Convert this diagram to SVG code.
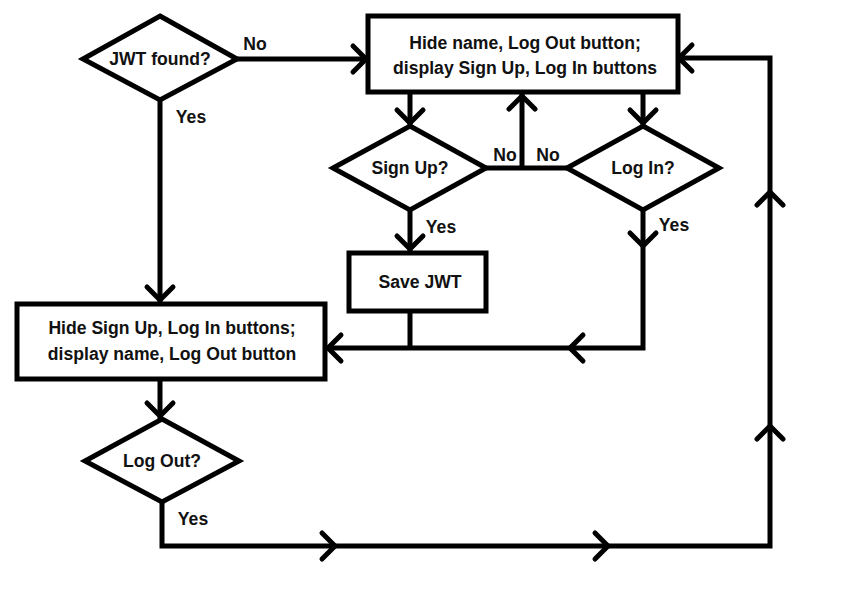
<svg xmlns="http://www.w3.org/2000/svg" xmlns:xlink="http://www.w3.org/1999/xlink" width="843" height="595" viewBox="0 0 843 595">
<style>
.s{fill:none;stroke:#000;stroke-width:5;stroke-linejoin:miter;stroke-linecap:square}
.n{fill:#fff;stroke:#000;stroke-width:5}
.t{font-family:"Liberation Sans",Arial,sans-serif;font-weight:bold;font-size:17.6px;fill:#111;text-anchor:middle}
</style>
<defs>
<path id="chev" d="M-13,-13 L0,0 L-13,13" fill="none" stroke="#000" stroke-width="5" stroke-linecap="round"/>
</defs>
<rect width="843" height="595" fill="#fff"/>
<g id="connectors">
<path class="s" d="M237,59 H366"/>
<use xlink:href="#chev" transform="translate(366,59)"/>
<text class="t" x="255" y="50">No</text>
<path class="s" d="M160,100 V302"/>
<use xlink:href="#chev" transform="translate(160,300) rotate(90)"/>
<text class="t" x="191" y="123">Yes</text>
<path class="s" d="M410,93 V124"/>
<use xlink:href="#chev" transform="translate(410,123) rotate(90)"/>
<path class="s" d="M643,93 V124"/>
<use xlink:href="#chev" transform="translate(643,123) rotate(90)"/>
<path class="s" d="M486,168 H567 M522,168 V95"/>
<use xlink:href="#chev" transform="translate(522,96) rotate(-90)"/>
<text class="t" x="505" y="161">No</text>
<text class="t" x="548" y="161">No</text>
<path class="s" d="M410,210 V251"/>
<use xlink:href="#chev" transform="translate(410,249) rotate(90)"/>
<text class="t" x="441" y="233">Yes</text>
<path class="s" d="M643,210 V348 H327 M410,311 V348"/>
<use xlink:href="#chev" transform="translate(643,246) rotate(90)"/>
<use xlink:href="#chev" transform="translate(570,348) rotate(180)"/>
<use xlink:href="#chev" transform="translate(328,348) rotate(180)"/>
<text class="t" x="674" y="231">Yes</text>
<path class="s" d="M160,379 V417"/>
<use xlink:href="#chev" transform="translate(160,416) rotate(90)"/>
<path class="s" d="M162,502 V546 H770 V58 H680"/>
<use xlink:href="#chev" transform="translate(335,546)"/>
<use xlink:href="#chev" transform="translate(608,546)"/>
<use xlink:href="#chev" transform="translate(770,426) rotate(-90)"/>
<use xlink:href="#chev" transform="translate(770,192) rotate(-90)"/>
<use xlink:href="#chev" transform="translate(679,58) rotate(180)"/>
<text class="t" x="193" y="525">Yes</text>
</g>
<g id="jwt-found">
<polygon class="n" points="160,16 237,59 160,100 83,59"/>
<text class="t" x="160" y="65">JWT found?</text>
</g>
<g id="logged-out-view">
<rect class="n" x="368" y="16" width="310" height="76"/>
<text class="t" x="525" y="49">Hide name, Log Out button;</text>
<text class="t" x="525" y="74">display Sign Up, Log In buttons</text>
</g>
<g id="sign-up">
<polygon class="n" points="410,126 486,168 410,210 333,168"/>
<text class="t" x="410" y="174">Sign Up?</text>
</g>
<g id="log-in">
<polygon class="n" points="643,126 719,168 643,210 567,168"/>
<text class="t" x="643" y="174">Log In?</text>
</g>
<g id="save-jwt">
<rect class="n" x="349" y="253" width="137" height="58"/>
<text class="t" x="420" y="288">Save JWT</text>
</g>
<g id="logged-in-view">
<rect class="n" x="17" y="304" width="308" height="75"/>
<text class="t" x="172" y="334">Hide Sign Up, Log In buttons;</text>
<text class="t" x="172" y="360">display name, Log Out button</text>
</g>
<g id="log-out">
<polygon class="n" points="162,419 239,461 162,502 85,461"/>
<text class="t" x="162" y="467">Log Out?</text>
</g>
</svg>
